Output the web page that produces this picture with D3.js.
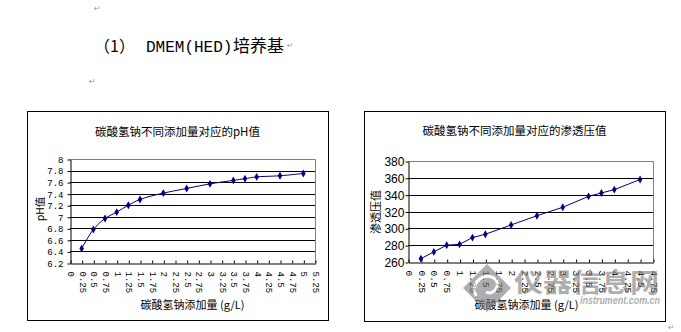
<!DOCTYPE html>
<html>
<head>
<meta charset="utf-8">
<script src="https://cdn.jsdelivr.net/npm/d3@7"></script>
<style>
  body { margin: 0; background: #fff; }
  svg { display: block; }
</style>
</head>
<body>
<div id="chart"></div>
<script>

// pH chart data
const phDose = [0.25, 0.5, 0.75, 1, 1.25, 1.5, 2, 2.5, 3, 3.5, 3.75, 4, 4.5, 5];
const phValue = [6.45, 6.78, 6.97, 7.08, 7.2, 7.3, 7.41, 7.49, 7.57, 7.63, 7.66, 7.69, 7.71, 7.75];
const phXTicks = ["0", "0.25", "0.5", "0.75", "1", "1.25", "1.5", "1.75", "2", "2.25", "2.5",
  "2.75", "3", "3.25", "3.5", "3.75", "4", "4.25", "4.5", "4.75", "5", "5.25"];
const phYTicks = ["6.2", "6.4", "6.6", "6.8", "7", "7.2", "7.4", "7.6", "7.8", "8"];

// osmotic pressure chart data
const osmDose = [0.25, 0.5, 0.75, 1, 1.25, 1.5, 2, 2.5, 3, 3.5, 3.75, 4, 4.5];
const osmValue = [264, 272, 280, 281, 289, 293, 304, 315, 325, 338, 342, 346, 358];
const osmXTicks = ["0", "0.25", "0.5", "0.75", "1", "1.25", "1.5", "1.75", "2", "2.25",
  "2.5", "2.75", "3", "3.25", "3.5", "3.75", "4", "4.25", "4.5", "4.75"];
const osmYTicks = ["260", "280", "300", "320", "340", "360", "380"];

const cjk = "'Noto Sans CJK SC', sans-serif";
const navy = "#000080";

const svg = d3.select("#chart")
  .append("svg")
  .attr("width", 681)
  .attr("height", 332);

// heading line of the document
const head = svg.append("text")
  .attr("y", 52)
  .attr("fill", "#000");
head.append("tspan").attr("x", 94).attr("font-family", cjk).attr("font-size", 16).text("（1）");
head.append("tspan").attr("x", 146).attr("font-family", "'Liberation Mono', monospace")
  .attr("font-size", 16).text("DMEM(HED)");
head.append("tspan").attr("x", 233).attr("font-family", cjk).attr("font-size", 17).text("培养基");

// paragraph marks
const marks = [[94, 11], [287, 48], [89, 84], [668, 330]];
svg.selectAll("text.para")
  .data(marks)
  .enter()
  .append("text")
  .attr("class", "para")
  .attr("x", d => d[0])
  .attr("y", d => d[1])
  .attr("font-family", "'DejaVu Sans'")
  .attr("font-size", 8)
  .attr("fill", "#9a9a9a")
  .text("↵");

function drawChart(o) {
  const g = svg.append("g");

  // outer chart box
  g.append("rect")
    .attr("x", o.box[0] + 0.5).attr("y", o.box[1] + 0.5)
    .attr("width", o.box[2] - o.box[0]).attr("height", o.box[3] - o.box[1])
    .attr("fill", "none").attr("stroke", "#000");

  const x = d3.scaleLinear()
    .domain([0, +o.xTicks[o.xTicks.length - 1]])
    .range([o.plot[0], o.plot[2]]);
  const y = d3.scaleLinear()
    .domain([+o.yTicks[0], +o.yTicks[o.yTicks.length - 1]])
    .range([o.plot[3], o.plot[1]]);

  // horizontal gridlines
  g.selectAll("line.grid")
    .data(o.yTicks.slice(1, -1))
    .enter()
    .append("line")
    .attr("x1", o.plot[0]).attr("x2", o.plot[2])
    .attr("y1", d => Math.round(y(+d)) + 0.5).attr("y2", d => Math.round(y(+d)) + 0.5)
    .attr("stroke", "#000");

  // top + right plot border (grey)
  g.append("path")
    .attr("d", `M${o.plot[0]},${o.plot[1] + 0.5}H${o.plot[2] + 0.5}V${o.plot[3]}`)
    .attr("fill", "none")
    .attr("stroke", "#808080");

  // x axis
  const xAxis = d3.axisBottom(x)
    .tickValues(o.xTicks.map(Number))
    .tickFormat((d, i) => o.xTicks[i])
    .tickSize(-3)
    .tickSizeOuter(0);
  const xg = g.append("g")
    .attr("transform", `translate(0.5,${o.plot[3] + 0.5})`)
    .call(xAxis);
  xg.attr("font-family", "'Liberation Mono', monospace").attr("font-size", o.xFont);
  xg.select(".domain").attr("stroke", "#000");
  xg.selectAll(".tick line").attr("stroke", "#000");
  xg.selectAll(".tick text")
    .attr("x", 0).attr("y", 0)
    .attr("dy", "0.35em")
    .attr("text-anchor", "start")
    .attr("fill", "#000")
    .attr("transform", "translate(0,8) rotate(90)");

  // y axis
  const yAxis = d3.axisLeft(y)
    .tickValues(o.yTicks.map(Number))
    .tickFormat((d, i) => o.yTicks[i])
    .tickSize(3)
    .tickPadding(o.yPad)
    .tickSizeOuter(0);
  const yg = g.append("g")
    .attr("transform", `translate(${o.plot[0] + 0.5},0.5)`)
    .call(yAxis);
  yg.attr("font-family", o.yFamily).attr("font-size", o.yFont);
  yg.select(".domain").attr("stroke", "#000");
  yg.selectAll(".tick line").attr("stroke", "#000");
  yg.selectAll(".tick text").attr("fill", "#000");
  if (o.yLen) {
    yg.selectAll(".tick text")
      .attr("textLength", d => String(d).length * o.yLen)
      .attr("lengthAdjust", "spacingAndGlyphs");
  }

  // series line and markers
  const pts = d3.zip(o.dose, o.value);
  const line = d3.line()
    .x(d => x(d[0]))
    .y(d => y(d[1]))
    .curve(o.smooth ? d3.curveCatmullRom : d3.curveLinear);
  g.append("path")
    .datum(pts)
    .attr("d", line)
    .attr("fill", "none")
    .attr("stroke", navy)
    .attr("stroke-width", 1);
  g.selectAll("path.mark")
    .data(pts)
    .enter()
    .append("path")
    .attr("class", "mark")
    .attr("transform", d => `translate(${x(d[0])},${y(d[1])})`)
    .attr("d", d3.symbol(d3.symbolDiamond, 18))
    .attr("fill", navy);

  // titles
  g.append("text")
    .attr("x", (o.box[0] + o.box[2]) / 2)
    .attr("y", o.titleY)
    .attr("text-anchor", "middle")
    .attr("font-family", cjk)
    .attr("font-size", 11.5)
    .text(o.title);
  g.append("text")
    .attr("x", (o.plot[0] + o.plot[2]) / 2 - o.xTitleShift)
    .attr("y", 309)
    .attr("text-anchor", "middle")
    .attr("font-family", cjk)
    .attr("font-size", 11)
    .text("碳酸氢钠添加量 (g/L)");
  g.append("text")
    .attr("transform", `translate(${o.yTitle[0]},${o.yTitle[1]}) rotate(-90)`)
    .attr("text-anchor", "middle")
    .attr("dy", "0.35em")
    .attr("font-family", cjk)
    .attr("font-size", o.yTitleFont)
    .text(o.yLabel);
}

drawChart({
  box: [27, 111, 328, 320],
  plot: [70, 159, 315, 263],
  dose: phDose, value: phValue,
  xTicks: phXTicks, yTicks: phYTicks,
  smooth: true,
  xFont: 9, yFont: 9, yFamily: "'Liberation Mono', monospace", yPad: 4, yLen: 0,
  title: "碳酸氢钠不同添加量对应的pH值", titleY: 136,
  xTitleShift: 0,
  yLabel: "pH值", yTitle: [40, 209], yTitleFont: 10.5
});

drawChart({
  box: [364, 111, 665, 321],
  plot: [408, 161, 653, 262],
  dose: osmDose, value: osmValue,
  xTicks: osmXTicks, yTicks: osmYTicks,
  smooth: false,
  xFont: 9.5, yFont: 12.5, yFamily: "'Liberation Sans', Arial, sans-serif", yPad: 1, yLen: 6.7,
  title: "碳酸氢钠不同添加量对应的渗透压值", titleY: 135,
  xTitleShift: 4,
  yLabel: "渗透压值", yTitle: [376, 212], yTitleFont: 11
});

// site watermark over the right chart
const wm = svg.append("g").attr("opacity", 0.6).attr("fill", "#7a7a7a");
wm.append("path")
  .attr("d", "M487,264L511,288L487,312L463,288Z");
wm.append("path")
  .attr("d", "M476,296C470,282 484,272 494,278C502,284 494,296 486,292")
  .attr("fill", "none").attr("stroke", "#fff").attr("stroke-width", 3);
wm.append("text")
  .attr("x", 514).attr("y", 292)
  .attr("font-family", cjk).attr("font-weight", "bold").attr("font-size", 26)
  .attr("textLength", 145).attr("lengthAdjust", "spacingAndGlyphs")
  .text("仪器信息网");
wm.append("text")
  .attr("x", 580).attr("y", 304)
  .attr("font-family", "'Liberation Sans', sans-serif").attr("font-weight", "bold")
  .attr("font-style", "italic").attr("font-size", 11)
  .attr("textLength", 80).attr("lengthAdjust", "spacingAndGlyphs")
  .text("instrument.com.cn");

</script>
</body>
</html>
